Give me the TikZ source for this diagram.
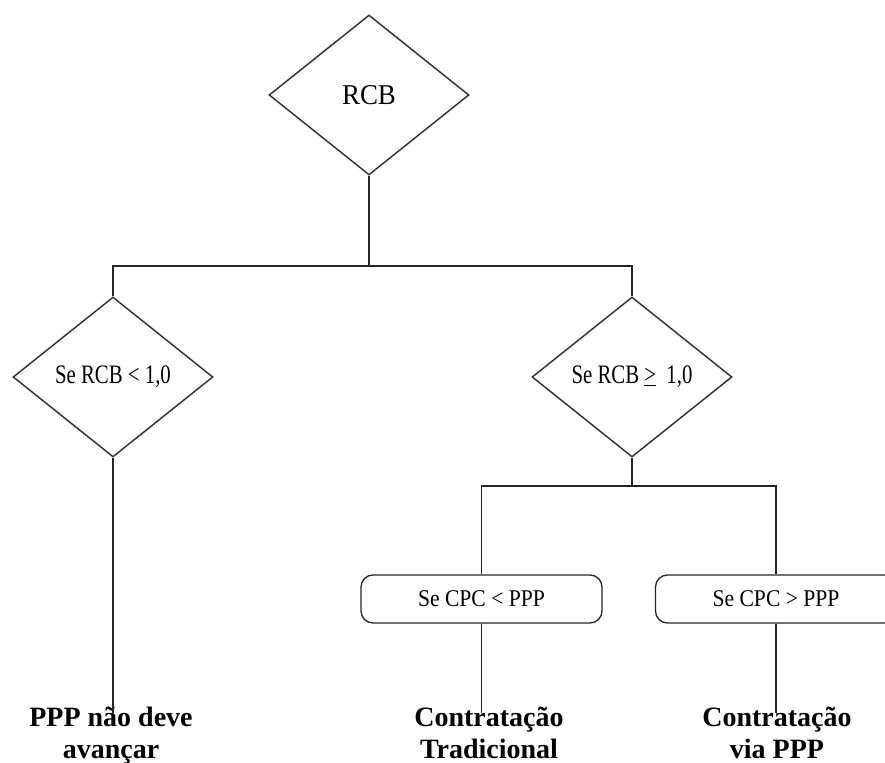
\documentclass[tikz,border=0pt]{standalone}
\usepackage{fontspec}
\setmainfont{Liberation Serif}
\newfontfamily\condserif[FakeStretch=0.9]{Liberation Serif}
\newfontfamily\narrowserif[FakeStretch=0.78]{Liberation Serif}
\newfontfamily\topserif[FakeStretch=0.94]{Liberation Serif}
\usetikzlibrary{shapes.geometric}
\begin{document}
\begin{tikzpicture}[x=0.75pt,y=-0.75pt,
  decision/.style={shape=diamond, draw=black!80, line width=1.1pt, aspect=1.25,
    minimum width=150pt, minimum height=120pt, inner sep=0pt,
    font=\narrowserif\fontsize{20}{22}\selectfont},
  testbox/.style={draw=black!85, line width=1pt, rounded corners=9pt,
    minimum width=180.75pt, minimum height=36pt, inner sep=0pt,
    font=\condserif\fontsize{18}{20}\selectfont},
  outcome/.style={anchor=north, align=center, inner sep=0pt,
    font=\bfseries\fontsize{21}{24}\selectfont},
  link/.style={draw=black!85, line width=1.2pt}]
  \useasboundingbox (0,0) rectangle (885,763);
  \fill[white] (0,0) rectangle (885,763);
  \clip (0,0) rectangle (885,763);

  % decisions
  \node[decision, font=\topserif\fontsize{21.5}{23}\selectfont] (rcb) at (369,95) {RCB};
  \node[decision] (low)  at (113,377) {Se RCB < 1,0};
  \node[decision] (high) at (632,377) {Se RCB \underline{>}\ \ 1,0};

  % cost comparison boxes
  \node[testbox] (cpcl) at (481.5,599) {Se CPC < PPP};
  \node[testbox] (cpcg) at (776,599)   {Se CPC > PPP};

  % outcomes
  \node[outcome] (stop) at (111,707) {PPP não deve\\avançar};
  \node[outcome] (trad) at (489,707) {Contratação\\Tradicional};
  \node[outcome] (ppp)  at (777,707) {Contratação\\via PPP};

  % junction points
  \coordinate (barL) at (113,266);
  \coordinate (barR) at (632,266);
  \coordinate (subL) at (481.5,486);
  \coordinate (subR) at (776,486);
  \coordinate (endA) at (113,713);
  \coordinate (endB) at (481.5,713);
  \coordinate (endC) at (776,713);

  % connectors
  \draw[link] (rcb.south) -- (rcb.south |- barL);
  \draw[link] (low.north) -- (barL) -- (barR) -- (high.north);
  \draw[link] (high.south) -- (high.south |- subL);
  \draw[link] (cpcl.north) -- (subL) -- (subR) -- (cpcg.north);
  \draw[link] (low.south) -- (endA);
  \draw[link] (cpcl.south) -- (endB);
  \draw[link] (cpcg.south) -- (endC);
\end{tikzpicture}
\end{document}
